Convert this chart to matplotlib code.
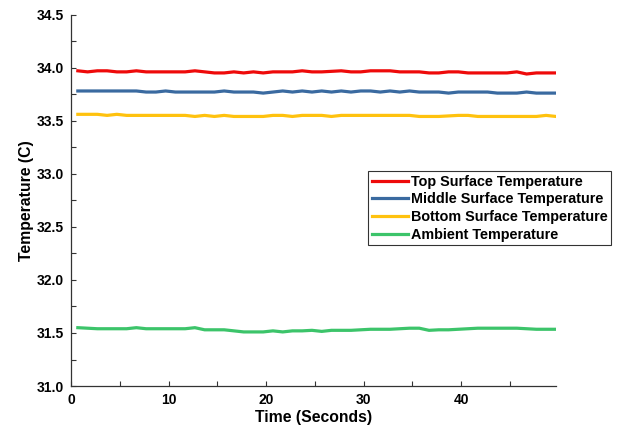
import numpy as np
import matplotlib
matplotlib.use("Agg")
import matplotlib.pyplot as plt
from matplotlib.ticker import MultipleLocator

plt.rcParams['font.family'] = ['Liberation Sans', 'DejaVu Sans']
plt.rcParams['font.weight'] = 'bold'

# time in seconds, one sample per second
time = np.arange(50) + 0.7

top_temp = [33.97, 33.96, 33.97, 33.97, 33.96, 33.96, 33.97, 33.96, 33.96, 33.96,
            33.96, 33.96, 33.97, 33.96, 33.95, 33.95, 33.96, 33.95, 33.96, 33.95,
            33.96, 33.96, 33.96, 33.97, 33.96, 33.96, 33.965, 33.97, 33.96, 33.96,
            33.97, 33.97, 33.97, 33.96, 33.96, 33.96, 33.95, 33.95, 33.96, 33.96,
            33.95, 33.95, 33.95, 33.95, 33.95, 33.96, 33.94, 33.95, 33.95, 33.95]

middle_temp = [33.78, 33.78, 33.78, 33.78, 33.78, 33.78, 33.78, 33.77, 33.77, 33.78,
               33.77, 33.77, 33.77, 33.77, 33.77, 33.78, 33.77, 33.77, 33.77, 33.76,
               33.77, 33.78, 33.77, 33.78, 33.77, 33.78, 33.77, 33.78, 33.77, 33.78,
               33.78, 33.77, 33.78, 33.77, 33.78, 33.77, 33.77, 33.77, 33.76, 33.77,
               33.77, 33.77, 33.77, 33.76, 33.76, 33.76, 33.77, 33.76, 33.76, 33.76]

bottom_temp = [33.56, 33.56, 33.56, 33.55, 33.56, 33.55, 33.55, 33.55, 33.55, 33.55,
               33.55, 33.55, 33.54, 33.55, 33.54, 33.55, 33.54, 33.54, 33.54, 33.54,
               33.55, 33.55, 33.54, 33.55, 33.55, 33.55, 33.54, 33.55, 33.55, 33.55,
               33.55, 33.55, 33.55, 33.55, 33.55, 33.54, 33.54, 33.54, 33.545, 33.55,
               33.55, 33.54, 33.54, 33.54, 33.54, 33.54, 33.54, 33.54, 33.55, 33.54]

ambient_temp = [31.55, 31.545, 31.54, 31.54, 31.54, 31.54, 31.55, 31.54, 31.54, 31.54,
                31.54, 31.54, 31.55, 31.53, 31.53, 31.53, 31.52, 31.51, 31.51, 31.51,
                31.52, 31.51, 31.52, 31.52, 31.525, 31.515, 31.525, 31.525, 31.525, 31.53,
                31.535, 31.535, 31.535, 31.54, 31.545, 31.545, 31.525, 31.53, 31.53, 31.535,
                31.54, 31.545, 31.545, 31.545, 31.545, 31.545, 31.54, 31.535, 31.535, 31.535]

fig = plt.figure(figsize=(6.19, 4.28), dpi=100)
ax = fig.add_axes([0.1147, 0.098, 0.898 - 0.1147, 0.966 - 0.098])

ax.plot(time, top_temp, color="#ee0a0a", lw=2.3, label="Top Surface Temperature")
ax.plot(time, middle_temp, color="#3a6aa0", lw=2.3, label="Middle Surface Temperature")
ax.plot(time, bottom_temp, color="#ffc20e", lw=2.3, label="Bottom Surface Temperature")
ax.plot(time, ambient_temp, color="#3cc46a", lw=2.3, label="Ambient Temperature")

ax.set_xlim(0, 49.7)
ax.set_ylim(31.0, 34.5)
ax.xaxis.set_major_locator(MultipleLocator(10))
ax.xaxis.set_minor_locator(MultipleLocator(5))
ax.yaxis.set_major_locator(MultipleLocator(0.5))
ax.yaxis.set_minor_locator(MultipleLocator(0.25))
ax.yaxis.set_major_formatter(matplotlib.ticker.FormatStrFormatter('%.1f'))
ax.tick_params(which="both", direction="in", length=3.5, width=0.8, colors="#333333")
ax.tick_params(which="major", labelsize=10, labelcolor="black", pad=5)

for s in ["top", "right"]:
    ax.spines[s].set_visible(False)
for s in ["left", "bottom"]:
    ax.spines[s].set_color("#333333")
    ax.spines[s].set_linewidth(0.9)

ax.set_xlabel("Time (Seconds)", fontsize=11.3, fontweight="bold", labelpad=2)
ax.set_ylabel("Temperature (C)", fontsize=11.3, fontweight="bold", labelpad=2)

leg = ax.legend(loc="upper right", bbox_to_anchor=(611 / 619, 1 - 171 / 428),
                bbox_transform=fig.transFigure, fontsize=10.4, frameon=True,
                fancybox=False, borderpad=0.25, labelspacing=0.26,
                handlelength=2.5, handletextpad=0.2, borderaxespad=0)
leg.get_frame().set_edgecolor("black")
leg.get_frame().set_linewidth(0.8)
for t in leg.get_texts():
    t.set_fontweight("bold")

fig.savefig("out.png", dpi=100)
